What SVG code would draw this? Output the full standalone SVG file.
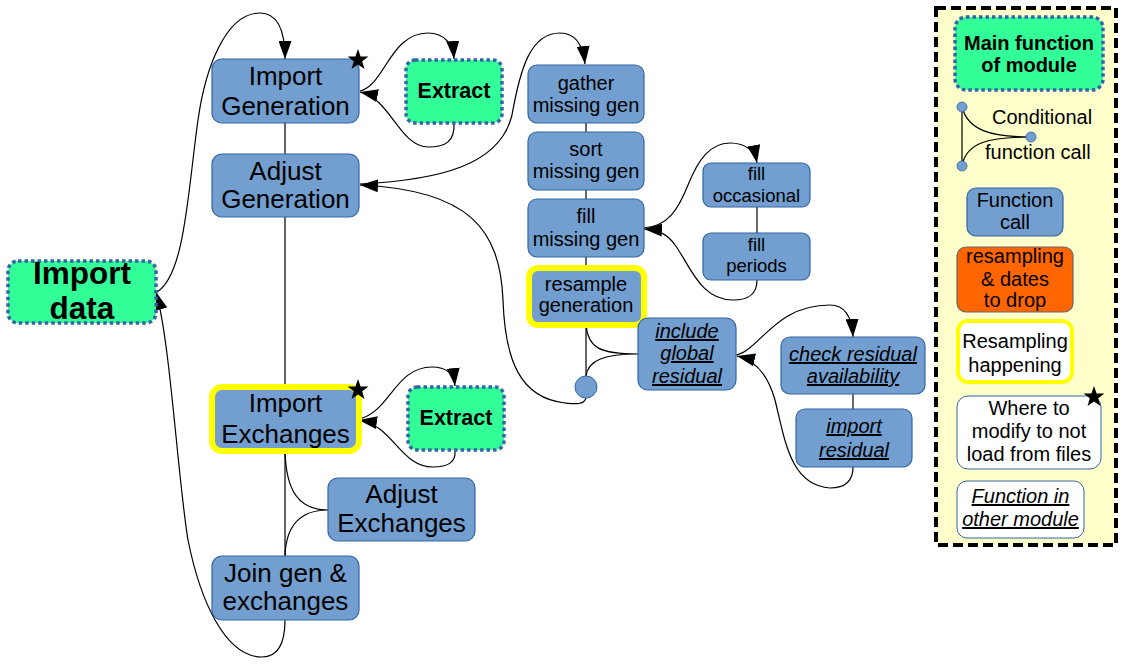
<svg xmlns="http://www.w3.org/2000/svg" xmlns:xlink="http://www.w3.org/1999/xlink" width="1122" height="667" viewBox="0 0 1122 667">
<style>
text{font-family:"Liberation Sans",Arial,sans-serif;fill:#000;text-anchor:middle}
.fn{fill:#729fcf;stroke:#3465a4;stroke-width:1.2}
.main{fill:#33ff99;stroke:#3465a4;stroke-width:3.5;stroke-dasharray:3.5 3}
.rs{fill:#729fcf;stroke:#ffff00;stroke-width:6}
.big{font-size:26px}
.sm{font-size:20px}
.xs{font-size:18.5px}
.bold{font-weight:bold}
.it{font-style:italic;text-decoration:underline}
.c{fill:none;stroke:#000;stroke-width:1.2}
.lg{font-size:20px}
</style>
<defs>
<marker id="arr" markerWidth="18" markerHeight="13" refX="18" refY="6.5" orient="auto" markerUnits="userSpaceOnUse"><path d="M0,0 L18,6.5 L0,13 z" fill="#000"/></marker>
<polygon id="star" points="0,-11 2.59,-3.56 10.46,-3.4 4.18,1.36 6.47,8.9 0,4.4 -6.47,8.9 -4.18,1.36 -10.46,-3.4 -2.59,-3.56" fill="#000"/>
</defs>
<rect width="1122" height="667" fill="#fff"/>

<g id="connectors">
<path class="c" d="M157,292 C185,275 188,190 198,120 C205,70 225,13 260,13 C278,13 285,30 285,59" marker-end="url(#arr)"/>
<path class="c" d="M285,620 C285,648 275,657 262,657 C225,657 200,600 188,540 C178,480 170,340 156,292" marker-end="url(#arr)"/>
<path class="c" d="M285,123 L285,154 M285,217 L285,387 M285,451 L285,556"/>
<path class="c" d="M360,91 C385,85 390,33 428,33 C445,33 453,45 454,59" marker-end="url(#arr)"/>
<path class="c" d="M454,123 C455,142 445,147 428,147 C400,147 390,98 360,92" marker-end="url(#arr)"/>
<path class="c" d="M359,419 C390,412 395,367 432,367 C448,367 454,376 455,386" marker-end="url(#arr)"/>
<path class="c" d="M455,451 C456,462 448,467 433,467 C400,467 393,425 359,420" marker-end="url(#arr)"/>
<path class="c" d="M285,451 C286,490 298,510 328,510 C300,510 286,525 285,556"/>
<path class="c" d="M360,184 C440,180 500,165 512,115 C520,70 530,33 560,33 C575,33 583,45 585,64" marker-end="url(#arr)"/>
<path class="c" d="M586,398 C584,405 575,404 565,403 C520,398 505,360 503,300 C500,230 470,190 360,185" marker-end="url(#arr)"/>
<path class="c" d="M586,123 L586,132 M586,190 L586,199 M586,257 L586,268 M586,325 L586,376"/>
<path class="c" d="M586,325 C588,348 600,354 638,354 C605,354 588,360 586,376"/>
<path class="c" d="M644,228 C668,226 678,210 688,185 C698,160 710,143 730,143 C747,143 755,152 757,163" marker-end="url(#arr)"/>
<path class="c" d="M757,280 C757,295 748,300 733,300 C700,300 690,265 675,245 C668,235 660,230 644,229" marker-end="url(#arr)"/>
<path class="c" d="M757,207 L757,233"/>
<path class="c" d="M736,355 C760,350 775,305 830,305 C845,305 852,318 853,337" marker-end="url(#arr)"/>
<path class="c" d="M853,467 C853,485 840,488 830,488 C790,485 785,440 775,400 C768,375 755,360 737,356" marker-end="url(#arr)"/>
<path class="c" d="M853,394 L853,409"/>
</g>

<g id="import-data">
<rect class="main" x="8" y="261" width="148" height="62" rx="10"/>
<text class="bold" font-size="31.5" x="82" y="284">Import</text>
<text class="bold" font-size="31.5" x="82" y="319">data</text>
</g>

<g id="import-generation">
<rect class="fn" x="212" y="59" width="147" height="64" rx="10"/>
<text class="big" x="285.5" y="85">Import</text>
<text class="big" x="285.5" y="115">Generation</text>
<use xlink:href="#star" x="358" y="60"/>
</g>

<g id="extract-gen">
<rect class="main" x="406" y="60" width="96" height="63" rx="9"/>
<text class="bold" font-size="21.5" x="454" y="98">Extract</text>
</g>

<g id="adjust-generation">
<rect class="fn" x="212" y="154" width="147" height="63" rx="10"/>
<text class="big" x="285.5" y="180">Adjust</text>
<text class="big" x="285.5" y="208">Generation</text>
</g>

<g id="import-exchanges">
<rect class="rs" x="212" y="387" width="147" height="64" rx="10"/>
<text class="big" x="285.5" y="412">Import</text>
<text class="big" x="285.5" y="443">Exchanges</text>
<use xlink:href="#star" x="358" y="390"/>
</g>

<g id="extract-exch">
<rect class="main" x="408" y="387" width="96" height="63" rx="9"/>
<text class="bold" font-size="21.5" x="456" y="425">Extract</text>
</g>

<g id="adjust-exchanges">
<rect class="fn" x="328" y="478" width="147" height="63" rx="10"/>
<text class="big" x="401.5" y="503">Adjust</text>
<text class="big" x="401.5" y="532">Exchanges</text>
</g>

<g id="join">
<rect class="fn" x="212" y="556" width="147" height="64" rx="10"/>
<text class="big" x="285.5" y="582">Join gen &amp;</text>
<text class="big" x="285.5" y="610">exchanges</text>
</g>

<g id="gather">
<rect class="fn" x="528" y="65" width="116" height="58" rx="9"/>
<text class="sm" x="586" y="90">gather</text>
<text class="sm" x="586" y="112">missing gen</text>
</g>

<g id="sort">
<rect class="fn" x="528" y="132" width="116" height="58" rx="9"/>
<text class="sm" x="586" y="156">sort</text>
<text class="sm" x="586" y="178">missing gen</text>
</g>

<g id="fill">
<rect class="fn" x="528" y="199" width="116" height="58" rx="9"/>
<text class="sm" x="586" y="223">fill</text>
<text class="sm" x="586" y="246">missing gen</text>
</g>

<g id="resample">
<rect class="rs" x="529" y="268" width="115" height="57" rx="9"/>
<text class="sm" x="586" y="291">resample</text>
<text class="sm" x="586" y="312">generation</text>
</g>

<g id="cond-circle">
<circle cx="586" cy="387" r="11" fill="#729fcf" stroke="#3465a4" stroke-width="1"/>
</g>

<g id="fill-occasional">
<rect class="fn" x="703" y="163" width="107" height="44" rx="8"/>
<text class="xs" x="756.5" y="180">fill</text>
<text class="xs" x="756.5" y="202">occasional</text>
</g>

<g id="fill-periods">
<rect class="fn" x="703" y="233" width="107" height="47" rx="8"/>
<text class="xs" x="756.5" y="251">fill</text>
<text class="xs" x="756.5" y="272">periods</text>
</g>

<g id="include-global-residual">
<rect class="fn" x="638" y="318" width="98" height="72" rx="10"/>
<text class="sm it" x="687" y="338">include</text>
<text class="sm it" x="687" y="360">global</text>
<text class="sm it" x="687" y="383">residual</text>
</g>

<g id="check-residual">
<rect class="fn" x="781" y="337" width="144" height="57" rx="9"/>
<text class="sm it" font-size="20.5" x="853" y="361">check residual</text>
<text class="sm it" font-size="20.5" x="853" y="383">availability</text>
</g>

<g id="import-residual">
<rect class="fn" x="796" y="409" width="116" height="58" rx="9"/>
<text class="sm it" x="854" y="433">import</text>
<text class="sm it" x="854" y="457">residual</text>
</g>

<g id="legend">
<rect x="936" y="8" width="180" height="537" fill="#ffffcc" stroke="#000" stroke-width="4" stroke-dasharray="10 5"/>
<rect class="main" x="955" y="17" width="148" height="73" rx="11"/>
<text class="bold" font-size="20" x="1029" y="50">Main function</text>
<text class="bold" font-size="20" x="1029" y="72">of module</text>
<path class="c" d="M962,107 L962,166 M962,107 C968,130 990,137 1031,137 C990,137 966,142 962,166"/>
<circle cx="962" cy="107" r="5" fill="#729fcf" stroke="#3465a4" stroke-width="0.8"/>
<circle cx="962" cy="166" r="5" fill="#729fcf" stroke="#3465a4" stroke-width="0.8"/>
<circle cx="1031" cy="137" r="5" fill="#729fcf" stroke="#3465a4" stroke-width="0.8"/>
<text class="lg" x="992" y="124" style="text-anchor:start">Conditional</text>
<text class="lg" x="985" y="159" style="text-anchor:start">function call</text>
<rect class="fn" x="967" y="188" width="96" height="48" rx="9"/>
<text class="lg" x="1015" y="207">Function</text>
<text class="lg" x="1015" y="229">call</text>
<rect x="957" y="247" width="116" height="65" rx="9" fill="#ff6600" stroke="#666" stroke-width="1.2"/>
<text class="lg" x="1015" y="263">resampling</text>
<text class="lg" x="1015" y="286">&amp; dates</text>
<text class="lg" x="1015" y="307">to drop</text>
<rect x="958" y="321" width="114" height="61" rx="10" fill="#fff" stroke="#ffff00" stroke-width="4"/>
<text class="lg" x="1015" y="348">Resampling</text>
<text class="lg" x="1015" y="372">happening</text>
<rect x="957" y="396" width="144" height="73" rx="11" fill="#fff" stroke="#3465a4" stroke-width="1"/>
<text class="lg" x="1029" y="415">Where to</text>
<text class="lg" x="1029" y="438">modify to not</text>
<text class="lg" x="1029" y="461">load from files</text>
<use xlink:href="#star" x="1094" y="397"/>
<rect x="957" y="481" width="127" height="57" rx="10" fill="#fff" stroke="#3465a4" stroke-width="1"/>
<text class="lg it" x="1020.5" y="503">Function in</text>
<text class="lg it" x="1020.5" y="526">other module</text>
</g>
</svg>
